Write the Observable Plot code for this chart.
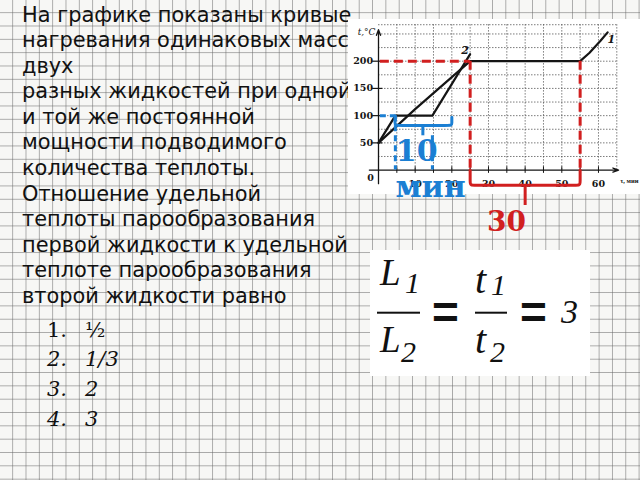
<!DOCTYPE html>
<html>
<head>
<meta charset="utf-8">
<script src="https://cdn.jsdelivr.net/npm/d3@7"></script>
<script src="https://cdn.jsdelivr.net/npm/@observablehq/plot@0.6"></script>
<style>
html,body{margin:0;padding:0;}
body{width:640px;height:480px;overflow:hidden;position:relative;
  background-color:#f7f7f5;
  background-image:
    linear-gradient(to right, rgba(105,105,105,0.55) 1.4px, transparent 1.4px),
    linear-gradient(to bottom, rgba(105,105,105,0.55) 1.4px, transparent 1.4px);
  background-size:13.333px 13.333px;
  background-position:12.2px 12.2px;}
#q{position:absolute;left:22px;top:2.5px;font-family:"DejaVu Sans";font-size:20.9px;line-height:25.6px;color:#111;white-space:nowrap;z-index:1}
#imgbg{position:absolute;left:348px;top:19px;width:292px;height:175px;background:#fff;z-index:2}
#chart{position:absolute;left:347px;top:20px;z-index:3}
#formula{position:absolute;left:370px;top:250px;z-index:2;background:#fff}
.ans{position:absolute;font-family:"DejaVu Serif";font-size:21px;line-height:21px;color:#111;z-index:1;white-space:nowrap}
</style>
</head>
<body>
<div id="q">На графике показаны кривые<br>нагревания одинаковых масс<br>двух<br>разных жидкостей при одной<br>и той же постоянной<br>мощности подводимого<br>количества теплоты.<br>Отношение удельной<br>теплоты парообразования<br>первой жидкости к удельной<br>теплоте парообразования<br>второй жидкости равно</div>
<div id="imgbg"></div>
<div id="chart"></div>

<svg id="formula" width="220" height="126">
  <g font-family="Liberation Serif" font-style="italic" fill="#111">
    <text x="10" y="35" font-size="37">L</text>
    <text x="35" y="43" font-size="30">1</text>
    <text x="10" y="102" font-size="37">L</text>
    <text x="31" y="112" font-size="30">2</text>
    <text x="105" y="43" font-size="40">t</text>
    <text x="121" y="45" font-size="30">1</text>
    <text x="105" y="103" font-size="40">t</text>
    <text x="120" y="112" font-size="30">2</text>
    <text x="191" y="73" font-size="34">3</text>
  </g>
  <rect x="7" y="61.7" width="43" height="2" fill="#111"></rect>
  <rect x="105" y="61.7" width="32" height="2" fill="#111"></rect>
  <g font-family="Liberation Sans" font-weight="bold" font-size="46" fill="#111" text-anchor="middle">
    <text x="75.5" y="78">=</text>
    <text x="163.5" y="78">=</text>
  </g>
</svg>

<div class="ans" style="left:47px;top:319.5px">1.</div><div class="ans" style="left:85px;top:319.5px">½</div>
<div class="ans" style="left:47px;top:349.3px;font-style:italic">2.</div><div class="ans" style="left:85px;top:349.3px;font-style:italic">1/3</div>
<div class="ans" style="left:47px;top:379.1px;font-style:italic">3.</div><div class="ans" style="left:85px;top:379.1px;font-style:italic">2</div>
<div class="ans" style="left:47px;top:408.9px;font-style:italic">4.</div><div class="ans" style="left:85px;top:408.9px;font-style:italic">3</div>

<script>
// ---- data ----
const time1 = [0, 10, 25, 55, 57.5, 60.5, 62.5];      // liquid 1, minutes
const temp1 = [50, 112, 200, 200, 215, 237, 253];      // liquid 1, °C
const time2 = [0, 4.6, 14.7, 25];                      // liquid 2, minutes
const temp2 = [50, 100, 100, 213];                     // liquid 2, °C
const xTickLabels = [10, 20, 30, 40, 50, 60];
const yTickLabels = [50, 100, 150, 200];
const gridTimes = [5, 10, 15, 20, 25, 30, 35, 40, 45, 50, 55, 60, 65];
const gridTemps = [25, 50, 75, 100, 125, 150, 175, 200, 225, 250];
const boil1 = {start: 25, end: 55, temp: 200, label: "30"};
const boil2 = {start: 4.6, end: 14.7, temp: 100, label: "10", unit: "мин"};

const series1 = time1.map((t, i) => ({t, v: temp1[i]}));
const series2 = time2.map((t, i) => ({t, v: temp2[i]}));

const ink = "#151515", red = "#d11f1f", blue = "#1b7fd3";
const grid = {stroke: "#444", strokeWidth: 0.7, strokeDasharray: "1.5,1.5"};
const tickFont = {fontFamily: "DejaVu Serif", fontWeight: "bold", fontSize: 9.5, fill: ink};

const redBracket = [
  {t: boil1.start, v: 0}, {t: boil1.start, v: -22}, {t: boil1.start, v: -28}, {t: boil1.start + 2, v: -28},
  {t: boil1.end - 2, v: -28}, {t: boil1.end, v: -28}, {t: boil1.end, v: -22}, {t: boil1.end, v: 0}
];
const blueBracket = [
  {t: 4.5, v: 100}, {t: 4.5, v: 86}, {t: 4.5, v: 82}, {t: 6, v: 82},
  {t: 18.5, v: 82}, {t: 20, v: 82}, {t: 20, v: 86}, {t: 20, v: 97}
];

const chart = Plot.plot({
  width: 293, height: 220,
  marginLeft: 31, marginRight: 23.7, marginTop: 5.3, marginBottom: 70.4,
  x: {domain: [0, 65], axis: null},
  y: {domain: [0, 265], axis: null},
  style: {background: "transparent", overflow: "visible", color: ink},
  marks: [
    // grid
    Plot.ruleX(gridTimes, {x: d => d, y1: 0, y2: 267, ...grid}),
    Plot.ruleY(gridTemps, {y: d => d, x1: 0, x2: 65, ...grid}),
    Plot.ruleY([267], {y: d => d, x1: 0, x2: 65, ...grid}),
    // axes
    Plot.arrow([0], {x1: -2.5, y1: 0, x2: 65.5, y2: 0, stroke: ink, strokeWidth: 1.3, headLength: 7, headAngle: 40}),
    Plot.arrow([0], {x1: 0, y1: -25, x2: 0, y2: 258, stroke: ink, strokeWidth: 1.3, headLength: 7, headAngle: 40}),
    Plot.ruleX(gridTimes.filter(t => t <= 60), {x: d => d, y1: -6, y2: 6, stroke: ink, strokeWidth: 1}),
    Plot.ruleY(yTickLabels, {y: d => d, x1: -1.6, x2: 1.2, stroke: ink, strokeWidth: 1.2}),
    Plot.text(xTickLabels, {x: d => d, y: 0, dy: 13.5, text: d => String(d), ...tickFont}),
    Plot.text(yTickLabels, {x: 0, y: d => d, dx: -5.5, textAnchor: "end", text: d => String(d), ...tickFont}),
    Plot.text(["0"], {x: 0, y: 0, dx: -8, dy: 8, text: d => d, ...tickFont}),
    Plot.text(["t,°C"], {x: 0, y: 254, dx: -3, textAnchor: "end", text: d => d, fontFamily: "DejaVu Serif", fontStyle: "italic", fontSize: 9, fill: ink}),
    Plot.text(["τ, мин"], {x: 65, y: 0, dx: 3.5, dy: 11, textAnchor: "start", text: d => d, fontFamily: "Liberation Serif", fontWeight: "bold", fontSize: 6.5, fill: ink}),
    // curves
    Plot.line(series2, {x: "t", y: "v", stroke: ink, strokeWidth: 2.2}),
    Plot.line(series1, {x: "t", y: "v", stroke: ink, strokeWidth: 2.2}),
    Plot.text(["2"], {x: 23.6, y: 220, text: d => d, fontFamily: "DejaVu Serif", fontStyle: "italic", fontWeight: "bold", fontSize: 11, fill: ink}),
    Plot.text(["1"], {x: 63.5, y: 240, text: d => d, fontFamily: "DejaVu Serif", fontStyle: "italic", fontWeight: "bold", fontSize: 11, fill: ink}),
    // red annotation (liquid 1 boiling)
    Plot.ruleY([boil1.temp], {y: d => d, x1: 0.5, x2: boil1.start, stroke: red, strokeWidth: 3, strokeDasharray: "9,5"}),
    Plot.ruleX([boil1.start, boil1.end], {x: d => d, y1: boil1.temp, y2: 0, stroke: red, strokeWidth: 3, strokeDasharray: "9,5"}),
    Plot.line(redBracket, {x: "t", y: "v", curve: "basis", stroke: red, strokeWidth: 3}),
    Plot.ruleX([(boil1.start + boil1.end) / 2], {x: d => d, y1: -28, y2: -65, stroke: red, strokeWidth: 3}),
    Plot.text([boil1.label], {x: 34.9, y: -95.5, text: d => d, fontFamily: "DejaVu Serif", fontWeight: "bold", fontSize: 28, fill: red}),
    // blue annotation (liquid 2 boiling)
    Plot.ruleY([boil2.temp], {y: d => d, x1: 0.5, x2: boil2.start, stroke: blue, strokeWidth: 3, strokeDasharray: "6,4"}),
    Plot.ruleX([boil2.start], {x: d => d, y1: boil2.temp, y2: 0, stroke: blue, strokeWidth: 3, strokeDasharray: "6,4"}),
    Plot.ruleX([boil2.end], {x: d => d, y1: 63, y2: 0, stroke: blue, strokeWidth: 3, strokeDasharray: "6,4"}),
    Plot.line(blueBracket, {x: "t", y: "v", curve: "basis", stroke: blue, strokeWidth: 3}),
    Plot.ruleX([12.1], {x: d => d, y1: 82, y2: 63, stroke: blue, strokeWidth: 3}),
    Plot.text([boil2.label], {x: 10.4, y: 34.5, text: d => d, fontFamily: "DejaVu Serif", fontWeight: "bold", fontSize: 30, fill: blue}),
    Plot.text([boil2.unit], {x: 14.2, y: -32, text: d => d, fontFamily: "DejaVu Serif", fontWeight: "bold", fontSize: 30, fill: blue})
  ]
});
document.getElementById("chart").appendChild(chart);
</script>
</body>
</html>
